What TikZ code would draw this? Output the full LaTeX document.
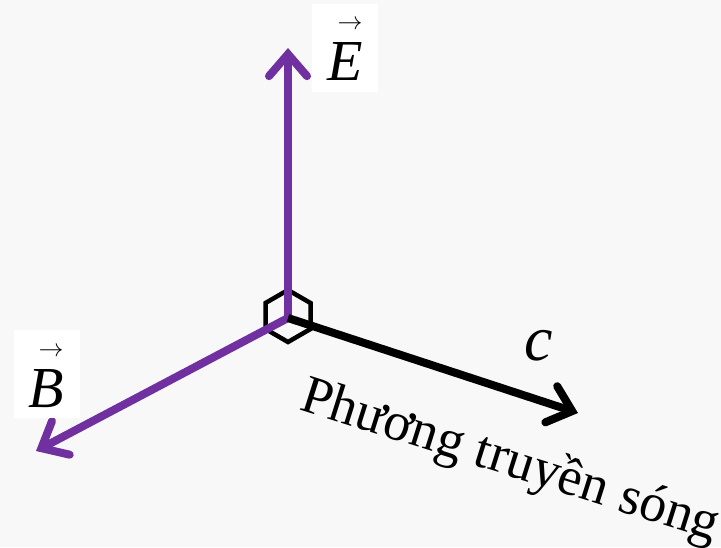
\documentclass[tikz,border=0pt]{standalone}
\usepackage{fontspec}
\setmainfont{Liberation Serif}
\usetikzlibrary{arrows.meta}
\definecolor{fieldpurple}{HTML}{7030A0}
\definecolor{sheetgray}{HTML}{F8F8F8}
\newcommand{\arrowsym}[1]{\shortstack[c]{\fontsize{28}{28}\selectfont\hspace{10pt}$\rightarrow$\\[10pt]\textit{#1}}}

\begin{document}
\begin{tikzpicture}[x=1pt, y=-1pt,
  fieldvec/.style={line width=8pt, -{Straight Barb[length=22pt,width=38pt,line cap=round,line join=miter]}},
  labelbox/.style={fill=white, inner sep=0pt, minimum width=66pt, minimum height=88pt},
  vecsym/.style={inner sep=0pt, font=\fontsize{58}{60}\selectfont}]
\fill[sheetgray] (0,0) rectangle (721,547);
\useasboundingbox (0,0) rectangle (721,547);
% origin and arrow ends
\coordinate (O) at (288,318);
\coordinate (Etip) at (288,48);
\coordinate (Btip) at (36,451);
\coordinate (ctip) at (578,413);
% small cube mark at the origin
\draw[line width=4.5pt] (288,290) -- (310.5,303) -- (310.5,329) -- (288,342)
  -- (265.5,329) -- (265.5,303) -- cycle;
\draw[line width=4.5pt] (O) -- (265.5,329);
% the fields
\draw[fieldvec, fieldpurple] (O) -- (Etip);
\draw[fieldvec, fieldpurple] (O) -- (Btip);
\draw[fieldvec, black] (O) -- (ctip);
% labels
\node[labelbox] (Ebox) at (344.5,47.5) {};
\node[vecsym, anchor=base] (Elbl) at (345,80) {\arrowsym{E}};
\node[labelbox] (Bbox) at (46.5,374) {};
\node[vecsym, anchor=base] (Blbl) at (46,407) {\arrowsym{B}};
\node[font=\fontsize{64}{64}\selectfont] (clbl) at (539,346) {\textit{c}};
\node[font=\fontsize{54}{56}\selectfont, rotate=-17.6] (dir) at (510,462) {Phương truyền sóng};
\end{tikzpicture}
\end{document}
